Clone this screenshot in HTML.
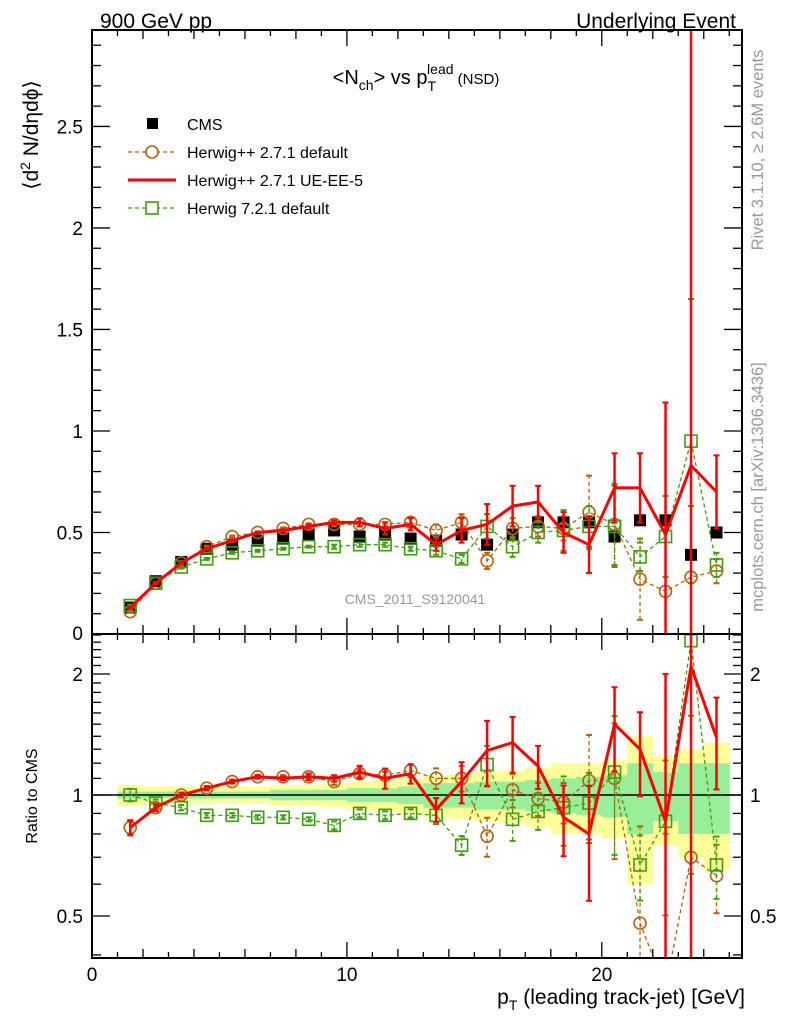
<!DOCTYPE html>
<html><head><meta charset="utf-8"><style>
html,body{margin:0;padding:0;background:#fff;overflow:hidden;width:786px;height:1024px;}
svg{display:block;font-family:"Liberation Sans",Arial,sans-serif;}
</style></head><body>
<svg id="c" width="786" height="1024" viewBox="0 0 786 1024">
<text x="100" y="28" font-size="21">900 GeV pp</text>
<text x="736" y="28" font-size="21" text-anchor="end">Underlying Event</text>
<text x="416" y="84" font-size="20" text-anchor="middle">&lt;N<tspan font-size="14" dy="6">ch</tspan><tspan dy="-6">&gt; vs p</tspan><tspan font-size="14" dy="7">T</tspan><tspan font-size="14" dx="-9" dy="-17">lead</tspan><tspan font-size="15" dy="10"> (NSD)</tspan></text>
<text transform="translate(38,135) rotate(-90)" font-size="21" text-anchor="middle">⟨d<tspan font-size="14" dy="-8">2</tspan><tspan dy="8"> N/dηdϕ⟩</tspan></text>
<text transform="translate(37,796) rotate(-90)" font-size="16" text-anchor="middle">Ratio to CMS</text>
<text x="745" y="1004" font-size="21" text-anchor="end">p<tspan font-size="14" dy="6">T</tspan><tspan dy="-6"> (leading track-jet) [GeV]</tspan></text>
<text transform="translate(763,150) rotate(-90)" font-size="16.5" fill="#999" text-anchor="middle">Rivet 3.1.10, ≥ 2.6M events</text>
<text transform="translate(763,487) rotate(-90)" font-size="16.5" fill="#999" text-anchor="middle">mcplots.cern.ch [arXiv:1306.3436]</text>
<text x="415" y="604" font-size="14" fill="#999" text-anchor="middle">CMS_2011_S9120041</text>
<g id="g"></g>
</svg>
<script>
const xCenters=[1.5,2.5,3.5,4.5,5.5,6.5,7.5,8.5,9.5,10.5,11.5,12.5,13.5,14.5,15.5,16.5,17.5,18.5,19.5,20.5,21.5,22.5,23.5,24.5];
const cmsVals=[0.13,0.26,0.355,0.42,0.44,0.46,0.47,0.49,0.51,0.48,0.49,0.47,0.46,0.49,0.44,0.49,0.55,0.55,0.55,0.48,0.56,0.56,0.39,0.50];
const cmsTotErr=[0.06,0.05,0.05,0.05,0.05,0.05,0.06,0.06,0.07,0.08,0.09,0.10,0.12,0.13,0.14,0.15,0.17,0.20,0.20,0.22,0.40,0.25,0.30,0.35];
const cmsStatErr=[0.02,0.02,0.02,0.02,0.02,0.02,0.03,0.03,0.03,0.04,0.04,0.05,0.07,0.07,0.08,0.08,0.09,0.10,0.11,0.12,0.20,0.14,0.20,0.20];
const hppVals=[0.11,0.25,0.35,0.43,0.48,0.50,0.52,0.54,0.54,0.54,0.54,0.55,0.51,0.55,0.36,0.52,0.53,0.52,0.60,0.54,0.27,0.21,0.28,0.31];
const hppErr=[0.005,0.005,0.005,0.005,0.005,0.005,0.005,0.005,0.01,0.01,0.01,0.02,0.03,0.04,0.04,0.05,0.05,0.06,0.18,0.2,0.2,0.3,0.35,0.06];
const ueVals=[0.13,0.25,0.35,0.42,0.46,0.50,0.51,0.53,0.55,0.55,0.52,0.54,0.44,0.51,0.54,0.63,0.65,0.50,0.44,0.72,0.72,0.49,0.83,0.70];
const ueErr=[0.005,0.005,0.005,0.005,0.005,0.005,0.005,0.01,0.01,0.02,0.03,0.03,0.03,0.06,0.1,0.1,0.08,0.1,0.14,0.17,0.17,0.65,2.2,0.18];
const h7Vals=[0.14,0.25,0.33,0.37,0.40,0.41,0.42,0.43,0.43,0.44,0.44,0.42,0.41,0.37,0.53,0.43,0.50,0.51,0.53,0.53,0.38,0.48,0.95,0.34];
const h7Err=[0.005,0.005,0.005,0.005,0.005,0.005,0.005,0.005,0.01,0.01,0.01,0.01,0.02,0.02,0.06,0.05,0.05,0.1,0.1,0.2,0.07,0.2,0.7,0.06];
const hppRatio=[0.83,0.93,1.0,1.04,1.08,1.11,1.11,1.11,1.08,1.13,1.12,1.15,1.10,1.10,0.79,1.03,0.98,0.96,1.085,1.10,0.48,0.33,0.70,0.63];
const ueRatio=[0.83,0.93,1.0,1.04,1.08,1.11,1.10,1.11,1.10,1.14,1.10,1.13,0.92,1.08,1.29,1.35,1.18,0.88,0.80,1.50,1.30,0.86,2.09,1.39];
const h7Ratio=[1.0,0.955,0.93,0.89,0.89,0.88,0.88,0.87,0.84,0.90,0.89,0.90,0.89,0.75,1.19,0.87,0.91,0.93,0.955,1.14,0.67,0.86,2.42,0.67];
const mainTicks=[0.5,1,1.5,2,2.5];
const ratioTicks=[0.5,1,2];
const xTicks=[0,10,20];

const NS='http://www.w3.org/2000/svg';
const G=document.getElementById('g');
const L=92,R=742,T=30,M=634,B=958;
const X=v=>L+v*(R-L)/25.5;
const Y=v=>M-v*(M-T)/2.975;
const YR=v=>795-Math.log2(v)*121;
function el(t,a,p){const e=document.createElementNS(NS,t);for(const k in a)e.setAttribute(k,a[k]);(p||G).appendChild(e);return e;}
function clip(id,y1,y2){const d=el('clipPath',{id:id});el('rect',{x:L,y:y1,width:R-L,height:y2-y1},d);}
clip('cm',T,M);clip('cr',M,B);
const gm=el('g',{'clip-path':'url(#cm)'});
const gr=el('g',{'clip-path':'url(#cr)'});

xCenters.forEach((x,i)=>{
 const b1=el('rect',{x:X(x-0.5),y:YR(1+cmsTotErr[i]),width:X(1)-X(0)+0.5,height:YR(1-cmsTotErr[i])-YR(1+cmsTotErr[i]),fill:'#ffff99'},gr);
 
});
xCenters.forEach((x,i)=>{
 const b2=el('rect',{x:X(x-0.5),y:YR(1+cmsStatErr[i]),width:X(1)-X(0)+0.5,height:YR(1-cmsStatErr[i])-YR(1+cmsStatErr[i]),fill:'#99ee99'},gr);
 
});
el('line',{x1:L,x2:R,y1:YR(1),y2:YR(1),stroke:'#000','stroke-width':1.5},gr);

function series(vals,errs,color,dash,marker,width,name,ratio,rvals){
 const grp=ratio?gr:gm;
 const yf=ratio?(i=>YR(Math.max(rvals[i],0.01))):(i=>Y(vals[i]));
 const ye=ratio?(i=>{const rel=errs[i]/vals[i];return [YR(Math.max(rvals[i]*(1-rel),0.01)),YR(rvals[i]*(1+rel))];}):(i=>[Y(vals[i]-errs[i]),Y(vals[i]+errs[i])]);
 const pts=xCenters.map((x,i)=>X(x)+','+yf(i)).join(' ');
 const pl=el('polyline',{points:pts,fill:'none',stroke:color,'stroke-width':width,'stroke-dasharray':dash||'none'},grp);
 
 xCenters.forEach((x,i)=>{
  const [a,b]=ye(i);
  const eb=el('g',{},grp);
  
  el('line',{x1:X(x),x2:X(x),y1:a,y2:b,stroke:color,'stroke-width':width>2?2.5:1.3,'stroke-dasharray':dash||'none'},eb);
  el('line',{x1:X(x)-3,x2:X(x)+3,y1:a,y2:a,stroke:color,'stroke-width':2},eb);
  el('line',{x1:X(x)-3,x2:X(x)+3,y1:b,y2:b,stroke:color,'stroke-width':2},eb);
  let m=null;
  if(marker==='circle')m=el('circle',{cx:X(x),cy:yf(i),r:6,fill:'none',stroke:color,'stroke-width':1.6},grp);
  if(marker==='square')m=el('rect',{x:X(x)-6,y:yf(i)-6,width:12,height:12,fill:'none',stroke:color,'stroke-width':1.6},grp);
  if(m){}
 });
}
xCenters.forEach((x,i)=>{
 const r=el('rect',{x:X(x)-6,y:Y(cmsVals[i])-6,width:12,height:12,fill:'#000'},gm);
 
});
const OR='#b5620f',GR='#3f9c0c',RD='#ff0000';
series(hppVals,hppErr,OR,'4,3','circle',1.3,'herwigpp-default',false);
series(h7Vals,h7Err,GR,'4,3','square',1.3,'herwig7-default',false);
series(ueVals,ueErr,RD,null,null,3,'herwigpp-ue-ee-5',false);
series(hppVals,hppErr,OR,'4,3','circle',1.3,'ratio-herwigpp-default',true,hppRatio);
series(h7Vals,h7Err,GR,'4,3','square',1.3,'ratio-herwig7-default',true,h7Ratio);
series(ueVals,ueErr,RD,null,null,3,'ratio-herwigpp-ue-ee-5',true,ueRatio);

el('rect',{x:L,y:T,width:R-L,height:M-T,fill:'none',stroke:'#000','stroke-width':2});
el('rect',{x:L,y:M,width:R-L,height:B-M,fill:'none',stroke:'#000','stroke-width':2});
for(let v=0;v<=25;v++){
 const len=v%10===0?16:(v%2===0?9:6);
 [M,B].forEach(yb=>{el('line',{x1:X(v),x2:X(v),y1:yb,y2:yb-len,stroke:'#000','stroke-width':1.3});});
 el('line',{x1:X(v),x2:X(v),y1:T,y2:T+len,stroke:'#000','stroke-width':1.3});
 el('line',{x1:X(v),x2:X(v),y1:M,y2:M+len,stroke:'#000','stroke-width':1.3});
}
xTicks.forEach(v=>{const t=el('text',{x:X(v),y:981,'font-size':19,'text-anchor':'middle'});t.textContent=v;
 });
for(let k=1;k<=29;k++){const v=k/10;const len=k%5===0?18:9;
 el('line',{x1:L,x2:L+len,y1:Y(v),y2:Y(v),stroke:'#000','stroke-width':1.3});
 el('line',{x1:R,x2:R-len,y1:Y(v),y2:Y(v),stroke:'#000','stroke-width':1.3});}
mainTicks.forEach(v=>{const t=el('text',{x:83,y:Y(v)+7,'font-size':19,'text-anchor':'end'});t.textContent=v;
 });
{const t=el('text',{x:83,y:640,'font-size':19,'text-anchor':'end'});t.textContent='0';}
[0.4,0.5,0.6,0.7,0.8,0.9,1,1.1,1.2,1.3,1.4,1.5,1.6,1.7,1.8,1.9,2,2.1,2.2,2.3,2.4,2.5].forEach(v=>{
 const len=(v===0.5||v===1||v===2)?18:9;
 el('line',{x1:L,x2:L+len,y1:YR(v),y2:YR(v),stroke:'#000','stroke-width':1.3});
 el('line',{x1:R,x2:R-len,y1:YR(v),y2:YR(v),stroke:'#000','stroke-width':1.3});});
ratioTicks.forEach(v=>{
 const t=el('text',{x:83,y:YR(v)+7,'font-size':19,'text-anchor':'end'});t.textContent=v;
 
 const t2=el('text',{x:750,y:YR(v)+7,'font-size':19});t2.textContent=v;
 });
const lg=el('g',{});
const ly=[124,152,180,208];
const labels=['CMS','Herwig++ 2.7.1 default','Herwig++ 2.7.1 UE-EE-5','Herwig 7.2.1 default'];
el('rect',{x:147,y:ly[0]-6,width:11,height:11,fill:'#000'},lg);
el('line',{x1:128,x2:176,y1:ly[1],y2:ly[1],stroke:OR,'stroke-width':1.3,'stroke-dasharray':'4,3'},lg);
el('circle',{cx:152,cy:ly[1],r:6,fill:'#fff',stroke:OR,'stroke-width':1.6},lg);
el('line',{x1:128,x2:176,y1:ly[2],y2:ly[2],stroke:RD,'stroke-width':3},lg);
el('line',{x1:128,x2:176,y1:ly[3],y2:ly[3],stroke:GR,'stroke-width':1.3,'stroke-dasharray':'4,3'},lg);
el('rect',{x:146,y:ly[3]-6,width:12,height:12,fill:'#fff',stroke:GR,'stroke-width':1.6},lg);
labels.forEach((s,i)=>{const t=el('text',{x:187,y:ly[i]+6,'font-size':16},lg);t.textContent=s;
 });
</script>
</body></html>
